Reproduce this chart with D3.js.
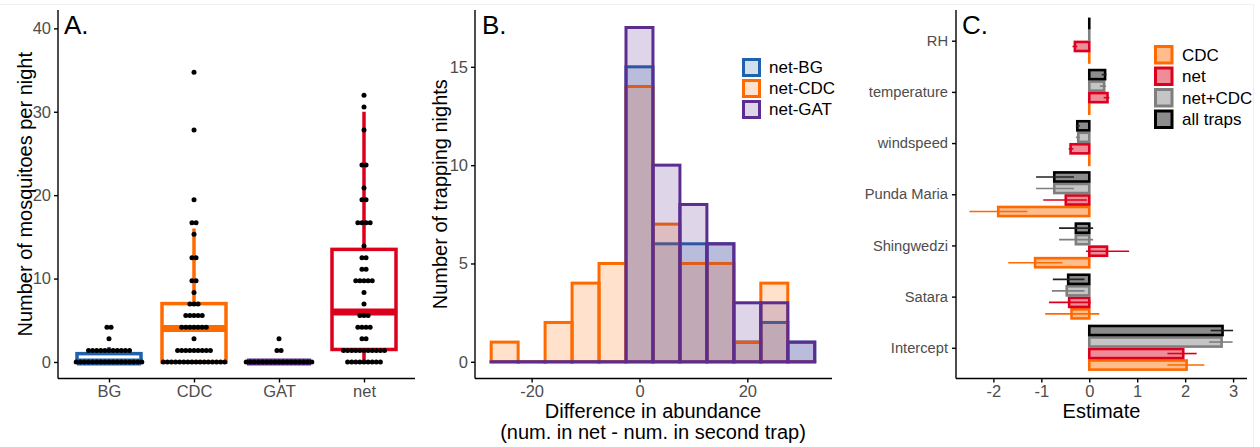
<!DOCTYPE html>
<html>
<head>
<meta charset="utf-8">
<script src="https://cdnjs.cloudflare.com/ajax/libs/d3/7.8.5/d3.min.js"></script>
<style>
  body { margin: 0; background: #fff; }
  text { font-family: "Liberation Sans", Arial, sans-serif; }
  .axis path, .axis line { stroke: #000; stroke-width: 1.4px; }
  .axis text { fill: #4d4d4d; }
</style>
</head>
<body>
<script>
// ---------- panel A: mosquitoes per night ----------
var traps = ["BG", "CDC", "GAT", "net"];
var trapColors = ["#1f62ab", "#ff6a00", "#5c2d91", "#dc001c"];
// dotplot bins: [value, number of dots]
var dotsBG  = [[0,17],[1.39,11],[2.78,1],[4.17,2]];
var dotsCDC = [[0,16],[1.39,9],[2.78,1],[4.17,7],[5.56,5],[6.94,3],[8.34,1],[9.73,2],[12.5,2],[15.3,1],[16.7,2],[19.46,1],[27.8,1],[34.75,1]];
var dotsGAT = [[0,17],[1.39,2],[2.78,1]];
var dotsNet = [[0,9],[1.39,11],[2.78,2],[4.17,4],[5.56,3],[6.94,1],[8.34,1],[9.73,5],[11.12,2],[12.5,2],[13.9,1],[16.7,4],[19.46,2],[20.85,1],[23.63,2],[27.8,1],[30.58,1],[31.97,1]];
var dotSets = [dotsBG, dotsCDC, dotsGAT, dotsNet];
// box stats per trap
var boxLow  = [0, 0, 0, 0];
var boxQ1   = [0, 0, 0, 1.5];
var boxMed  = [0, 4, 0, 6];
var boxQ3   = [1, 7, 0, 13.5];
var boxHigh = [1.8, 16, 0, 30];
var yTicksA = [0, 10, 20, 30, 40];

// ---------- panel B: histogram of differences ----------
var binCenters = [-25, -20, -15, -10, -5, 0, 5, 10, 15, 20, 25, 30];
var histBG  = [0, 0, 0, 0, 0, 15, 6, 6, 6, 1, 2, 1];
var histCDC = [1, 0, 2, 4, 5, 14, 7, 5, 5, 1, 4, 0];
var histGAT = [0, 0, 0, 0, 0, 17, 10, 8, 6, 3, 3, 1];
var histNames = ["net-BG", "net-CDC", "net-GAT"];
var histColors = ["#1f62ab", "#ff6a00", "#5c2d91"];
var yTicksB = [0, 5, 10, 15];
var xTicksB = [-20, 0, 20];

// ---------- panel C: model estimates ----------
var terms = ["RH", "temperature", "windspeed", "Punda Maria", "Shingwedzi", "Satara", "Intercept"];
var models = ["CDC", "net", "net+CDC", "all traps"];
var modelColors = ["#ff6a00", "#dc001c", "#7f7f7f", "#000000"];
var errColors = ["#ff6a00", "#dc001c", "#7f7f7f", "#222222"];
var estCDC = [0, 0, 0, -1.9, -1.13, -0.37, 2.03];
var loCDC  = [0, 0, 0, -2.5, -1.69, -0.92, 1.63];
var hiCDC  = [0, 0, 0, -1.29, -0.56, 0.21, 2.4];
var estNet = [-0.3, 0.38, -0.39, -0.49, 0.37, -0.42, 1.96];
var loNet  = [-0.35, 0.3, -0.43, -0.96, -0.07, -0.84, 1.63];
var hiNet  = [-0.25, 0.42, -0.33, -0.05, 0.83, 0.03, 2.24];
var estNetCDC = [0, 0.31, -0.23, -0.73, -0.28, -0.47, 2.76];
var loNetCDC  = [0, 0.22, -0.28, -1.11, -0.63, -0.78, 2.5];
var hiNetCDC  = [0, 0.35, -0.2, -0.32, 0.08, -0.1, 2.99];
var estAll = [0, 0.33, -0.25, -0.73, -0.28, -0.44, 2.78];
var loAll  = [0, 0.26, -0.28, -1.11, -0.63, -0.76, 2.53];
var hiAll  = [0, 0.36, -0.2, -0.32, 0.08, -0.1, 3.0];
var xTicksC = [-2, -1, 0, 1, 2, 3];

var W = 1260, H = 447;
var svg = d3.select("body").append("svg").attr("width", W).attr("height", H);

// faint frame like the source image
svg.append("line").attr("x1", 0).attr("x2", 1254).attr("y1", 4.5).attr("y2", 4.5).attr("stroke", "#efefef");
svg.append("line").attr("x1", 1253.5).attr("x2", 1253.5).attr("y1", 4).attr("y2", H).attr("stroke", "#efefef");

var plotTop = 10, plotBottom = 378.5;
var plain = function(d) { return String(d); };

function panelLetter(x, s) {
  svg.append("text").attr("x", x).attr("y", 34).attr("font-size", 26).attr("fill", "#000").text(s);
}

// ================= A =================
var axL = 58, axR = 415;
var xA = d3.scalePoint().domain(traps).range([axL, axR]).padding(0.6);
var yA = d3.scaleLinear().domain([-1.98, 42.2]).range([plotBottom, plotTop]);
var bw = 64;

var gA = svg.append("g");
traps.forEach(function(t, i) {
  var cx = xA(t), col = trapColors[i];
  // whiskers
  gA.append("line").attr("x1", cx).attr("x2", cx).attr("y1", yA(boxQ3[i])).attr("y2", yA(boxHigh[i]))
    .attr("stroke", col).attr("stroke-width", 3.5);
  gA.append("line").attr("x1", cx).attr("x2", cx).attr("y1", yA(boxQ1[i])).attr("y2", yA(boxLow[i]))
    .attr("stroke", col).attr("stroke-width", 3.5);
  // box
  gA.append("rect").attr("x", cx - bw / 2).attr("width", bw)
    .attr("y", yA(boxQ3[i])).attr("height", Math.max(0, yA(boxQ1[i]) - yA(boxQ3[i])))
    .attr("fill", "#fff").attr("stroke", col).attr("stroke-width", 3.5);
  // median
  gA.append("line").attr("x1", cx - bw / 2).attr("x2", cx + bw / 2).attr("y1", yA(boxMed[i])).attr("y2", yA(boxMed[i]))
    .attr("stroke", col).attr("stroke-width", 7);
});

var dotStep = 4.1;
traps.forEach(function(t, i) {
  var cx = xA(t);
  dotSets[i].forEach(function(b) {
    for (var k = 0; k < b[1]; k++) {
      gA.append("circle").attr("cx", cx + (k - (b[1] - 1) / 2) * dotStep).attr("cy", yA(b[0]))
        .attr("r", 2.5).attr("fill", "#000");
    }
  });
});

svg.append("g").attr("class", "axis").attr("transform", "translate(" + axL + ",0)")
  .call(d3.axisLeft(yA).tickValues(yTicksA).tickFormat(plain).tickSize(4).tickPadding(3))
  .call(function(g) { g.select(".domain").attr("d", "M0," + plotTop + "V" + plotBottom); })
  .selectAll("text").attr("font-size", 16.5);
svg.append("g").attr("class", "axis").attr("transform", "translate(0," + plotBottom + ")")
  .call(d3.axisBottom(xA).tickSize(4).tickPadding(3))
  .call(function(g) { g.select(".domain").attr("d", "M" + axL + ",0H" + axR); })
  .selectAll("text").attr("font-size", 16.5);

svg.append("text").attr("transform", "translate(25," + ((plotTop + plotBottom) / 2) + ") rotate(-90)")
  .attr("text-anchor", "middle").attr("dominant-baseline", "central").attr("font-size", 20)
  .text("Number of mosquitoes per night");
panelLetter(64, "A.");

// ================= B =================
var bL = 475, bR = 832;
var xB = d3.scaleLinear().domain([-30.5, 35.7]).range([bL, bR]);
var yB = d3.scaleLinear().domain([-0.85, 17.89]).range([plotBottom, plotTop]);
var histSets = [histBG, histCDC, histGAT];

var gB = svg.append("g");
histSets.forEach(function(h, s) {
  gB.selectAll(null).data(binCenters).enter().append("rect")
    .attr("x", function(d) { return xB(d - 2.5); })
    .attr("width", function(d) { return xB(d + 2.5) - xB(d - 2.5); })
    .attr("y", function(d, i) { return yB(h[i]); })
    .attr("height", function(d, i) { return Math.max(0.01, yB(0) - yB(h[i])); })
    .attr("fill", histColors[s]).attr("fill-opacity", 0.2)
    .attr("stroke", histColors[s]).attr("stroke-width", 3);
});

svg.append("g").attr("class", "axis").attr("transform", "translate(" + bL + ",0)")
  .call(d3.axisLeft(yB).tickValues(yTicksB).tickFormat(plain).tickSize(4).tickPadding(3))
  .call(function(g) { g.select(".domain").attr("d", "M0," + plotTop + "V" + plotBottom); })
  .selectAll("text").attr("font-size", 16.5);
svg.append("g").attr("class", "axis").attr("transform", "translate(0," + plotBottom + ")")
  .call(d3.axisBottom(xB).tickValues(xTicksB).tickFormat(plain).tickSize(4).tickPadding(3))
  .call(function(g) { g.select(".domain").attr("d", "M" + bL + ",0H" + bR); })
  .selectAll("text").attr("font-size", 16.5);

svg.append("text").attr("transform", "translate(440," + ((plotTop + plotBottom) / 2) + ") rotate(-90)")
  .attr("text-anchor", "middle").attr("dominant-baseline", "central").attr("font-size", 20)
  .text("Number of trapping nights");
svg.append("text").attr("x", 653).attr("y", 418).attr("text-anchor", "middle").attr("font-size", 20)
  .text("Difference in abundance");
svg.append("text").attr("x", 653).attr("y", 439).attr("text-anchor", "middle").attr("font-size", 20)
  .text("(num. in net - num. in second trap)");
panelLetter(482, "B.");

var legB = svg.append("g").attr("transform", "translate(742,58)");
histNames.forEach(function(n, i) {
  legB.append("rect").attr("x", 1.5).attr("y", i * 21 + 1.5).attr("width", 16).attr("height", 16)
    .attr("fill", histColors[i]).attr("fill-opacity", 0.2)
    .attr("stroke", histColors[i]).attr("stroke-width", 3);
  legB.append("text").attr("x", 27).attr("y", i * 21 + 9.5).attr("dominant-baseline", "central")
    .attr("font-size", 17).text(n);
});

// ================= C =================
var cL = 956, cR = 1247;
var xC = d3.scaleLinear().domain([-2.78, 3.29]).range([cL, cR]);
var yC = d3.scalePoint().domain(terms).range([plotTop, plotBottom]).padding(0.6);
var step = yC.step(), barH = step * 0.9 / 4;
var estSets = [estCDC, estNet, estNetCDC, estAll];
var loSets = [loCDC, loNet, loNetCDC, loAll];
var hiSets = [hiCDC, hiNet, hiNetCDC, hiAll];

var gC = svg.append("g");
models.forEach(function(m, s) {
  // bottom to top: CDC, net, net+CDC, all traps
  var off = function(t) { return yC(t) + step * 0.45 - (s + 1) * barH; };
  gC.selectAll(null).data(terms).enter().append("rect")
    .attr("x", function(t, i) { return Math.min(xC(0), xC(estSets[s][i])); })
    .attr("width", function(t, i) { return Math.max(0.01, Math.abs(xC(estSets[s][i]) - xC(0))); })
    .attr("y", function(t) { return off(t) + 1.2; })
    .attr("height", barH - 2.4)
    .attr("fill", modelColors[s]).attr("fill-opacity", 0.45)
    .attr("stroke", modelColors[s]).attr("stroke-width", 2.6);
});
models.forEach(function(m, s) {
  var off = function(t) { return yC(t) + step * 0.45 - (s + 0.5) * barH; };
  gC.selectAll(null).data(terms).enter().append("line")
    .attr("x1", function(t, i) { return xC(loSets[s][i]); })
    .attr("x2", function(t, i) { return xC(hiSets[s][i]); })
    .attr("y1", off).attr("y2", off)
    .attr("stroke", errColors[s]).attr("stroke-width", 1.6);
});

svg.append("g").attr("class", "axis").attr("transform", "translate(" + cL + ",0)")
  .call(d3.axisLeft(yC).tickSize(4).tickPadding(4))
  .call(function(g) { g.select(".domain").attr("d", "M0," + plotTop + "V" + plotBottom); })
  .selectAll("text").attr("font-size", 14.7);
svg.append("g").attr("class", "axis").attr("transform", "translate(0," + plotBottom + ")")
  .call(d3.axisBottom(xC).tickValues(xTicksC).tickFormat(plain).tickSize(4).tickPadding(3))
  .call(function(g) { g.select(".domain").attr("d", "M" + cL + ",0H" + cR); })
  .selectAll("text").attr("font-size", 16.5);

svg.append("text").attr("x", (cL + cR) / 2).attr("y", 418).attr("text-anchor", "middle").attr("font-size", 20)
  .text("Estimate");
panelLetter(962, "C.");

var legC = svg.append("g").attr("transform", "translate(1154,45)");
models.forEach(function(m, i) {
  legC.append("rect").attr("x", 1.5).attr("y", i * 21.5 + 1.5).attr("width", 16.5).attr("height", 16.5)
    .attr("fill", modelColors[i]).attr("fill-opacity", 0.45)
    .attr("stroke", modelColors[i]).attr("stroke-width", 3);
  legC.append("text").attr("x", 28).attr("y", i * 21.5 + 10).attr("dominant-baseline", "central")
    .attr("font-size", 17).text(m);
});
</script>
</body>
</html>
